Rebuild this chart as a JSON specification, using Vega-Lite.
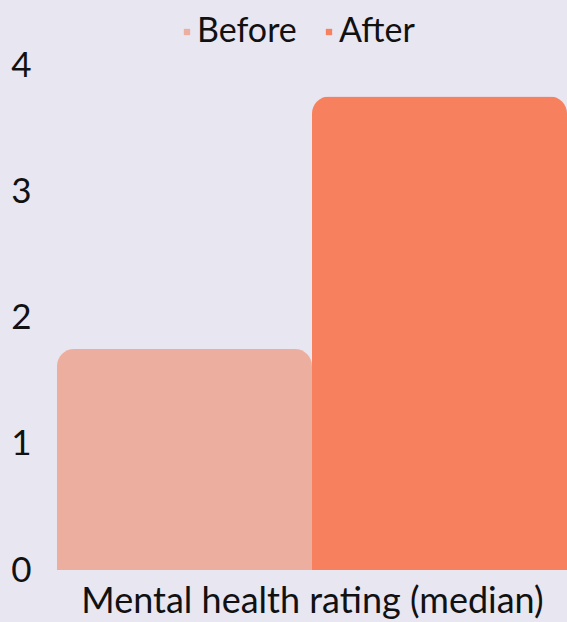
{
  "$schema": "https://vega.github.io/schema/vega-lite/v6.json",
  "width": 510,
  "height": 505,
  "autosize": {"type": "none"},
  "padding": {"left": 57, "top": 65, "right": 0, "bottom": 52},
  "background": "#E7E6F1",
  "config": {
    "view": {"stroke": null, "fill": "#E7E6F1"},
    "font": "Lato"
  },
  "data": {"values": [
    {"period": "Before", "measure": "Mental health rating (median)", "value": 1.75},
    {"period": "After", "measure": "Mental health rating (median)", "value": 3.75}
  ]},
  "mark": {"type": "bar", "cornerRadiusTopLeft": 17, "cornerRadiusTopRight": 17},
  "encoding": {
    "x": {
      "field": "period", "type": "nominal", "sort": ["Before", "After"],
      "scale": {"paddingInner": 0, "paddingOuter": 0},
      "axis": {"title": "Mental health rating (median)", "labels": false, "ticks": false, "domain": false,
               "titleFontSize": 36, "titleFont": "Lato", "titleFontWeight": "normal", "titleColor": "#111111", "titlePadding": 14}
    },
    "y": {
      "field": "value", "type": "quantitative",
      "scale": {"domain": [0, 4], "nice": false},
      "axis": {"title": null, "values": [0, 1, 2, 3, 4], "grid": false, "ticks": false, "domain": false,
               "labelFontSize": 35, "labelColor": "#111111", "labelPadding": 26, "format": "d"}
    },
    "color": {
      "field": "period", "type": "nominal", "sort": ["Before", "After"],
      "scale": {"domain": ["Before", "After"], "range": ["#ECAF9F", "#F7805F"]},
      "legend": {"title": null, "orient": "none", "direction": "horizontal", "legendX": 113, "legendY": -50,
                 "symbolType": "square", "symbolSize": 40, "labelFontSize": 34, "labelColor": "#111111",
                 "labelOffset": -7, "columnPadding": 15, "symbolStrokeWidth": 0}
    }
  }
}
